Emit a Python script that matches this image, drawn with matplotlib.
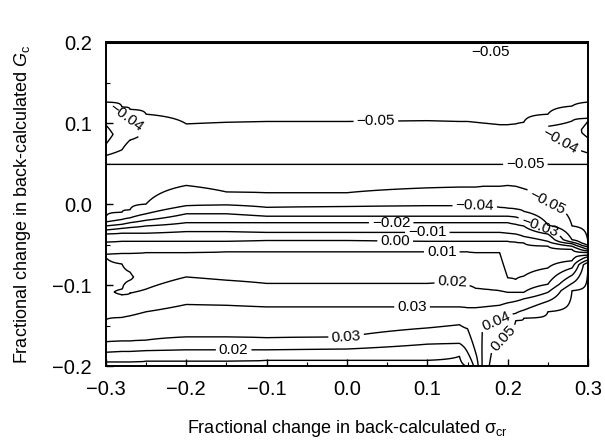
import numpy as np
import matplotlib.pyplot as plt
from matplotlib.ticker import FuncFormatter, MultipleLocator

plt.rcParams['font.family'] = 'Liberation Sans'
plt.rcParams['mathtext.fontset'] = 'custom'
plt.rcParams['mathtext.rm'] = 'Liberation Sans'
plt.rcParams['mathtext.it'] = 'Liberation Sans:italic'

na = np.nan

# columns (fractional change in sigma_cr) at which the contour positions were read
sig = [-0.3, -0.28, -0.27, -0.25, -0.2, -0.15, -0.1, 0.0, 0.1, 0.14, 0.15,
       0.16, 0.17, 0.18, 0.19, 0.2, 0.21, 0.22, 0.25, 0.28, 0.3]

levels = [-0.05, -0.04, -0.03, -0.02, -0.01, 0.0, 0.01, 0.02, 0.03, 0.04, 0.05]

# y position (fractional change in Gc) of each contour line at the columns above
top_edge = 0.22
line_a = 0.1985
trough_a = 0.155
line_b = [0.126, 0.120, 0.117, 0.111, 0.099, 0.101, 0.102, 0.102, 0.103, 0.102, 0.102,
          0.101, 0.100, 0.099, 0.098, 0.098, 0.099, 0.101, 0.111, 0.121, 0.126]
ridge_bc_y = [0.086, 0.086, 0.085, 0.083, 0.076, 0.075, 0.075, 0.075, 0.075, 0.075, 0.075,
              0.075, 0.075, 0.075, 0.075, 0.075, 0.076, 0.078, 0.092, 0.088, 0.092]
ridge_bc_v = [-0.026, -0.035, -0.037, -0.042, -0.047, -0.047, -0.047, -0.047, -0.047, -0.047, -0.047,
              -0.047, -0.047, -0.047, -0.047, -0.047, -0.047, -0.046, -0.039, -0.034, -0.026]
lobe_l04_up = [0.120, 0.114, 0.106] + [na] * 18
lobe_l04_dn = [0.060, 0.067, 0.079] + [na] * 18
lobe_l03_up = [0.0975] + [na] * 20
lobe_l03_dn = [0.074] + [na] * 20
lobe_r04_up = [na] * 18 + [0.096, 0.1025, 0.106]
lobe_r04_dn = [na] * 18 + [0.089, 0.070, 0.063]
lobe_r03_up = [na] * 20 + [0.1025]
lobe_r03_dn = [na] * 20 + [0.0815]
line_c = 0.049
trough_cd = 0.036
line_d1 = [-0.016, -0.010, -0.007, 0.000, 0.023, 0.015, 0.014, 0.014, 0.020, 0.021, 0.021,
           0.021, 0.022, 0.022, 0.022, 0.023, 0.022, 0.019, 0.000, -0.027, -0.048]
line_m04 = [-0.022, -0.019, -0.017, -0.012, -0.002, -0.001, -0.004, -0.003, -0.002, -0.002, -0.002,
            -0.002, -0.002, -0.003, -0.004, -0.005, -0.006, -0.009, -0.026, -0.044, -0.051]
line_m03 = [-0.027, -0.025, -0.023, -0.020, -0.012, -0.012, -0.015, -0.015, -0.015, -0.015, -0.015,
            -0.015, -0.015, -0.015, -0.015, -0.015, -0.016, -0.019, -0.031, -0.047, -0.053]
line_m02 = [-0.032, -0.030, -0.029, -0.027, -0.023, -0.023, -0.023, -0.023, -0.023, -0.023, -0.023,
            -0.023, -0.023, -0.023, -0.023, -0.023, -0.025, -0.027, -0.037, -0.049, -0.056]
line_m01 = [-0.037, -0.036, -0.036, -0.036, -0.034, -0.034, -0.035, -0.035, -0.035, -0.035, -0.035,
            -0.035, -0.035, -0.035, -0.035, -0.036, -0.037, -0.040, -0.046, -0.052, -0.058]
line_000 = [-0.047, -0.046, -0.046, -0.046, -0.046, -0.046, -0.045, -0.045, -0.046, -0.046, -0.046,
            -0.046, -0.046, -0.046, -0.046, -0.046, -0.047, -0.048, -0.052, -0.056, -0.060]
line_p01 = [-0.062, -0.061, -0.061, -0.060, -0.060, -0.059, -0.059, -0.059, -0.059, -0.059, -0.059,
            -0.060, -0.060, -0.060, -0.060, -0.091, -0.093, -0.089, -0.079, -0.070, -0.063]
lobe_p02_up = [-0.066, -0.074, -0.084] + [na] * 18
lobe_peak_y = [-0.090, -0.090, -0.090, -0.088] + [na] * 17
lobe_peak_v = [0.026, 0.023, 0.021, 0.016] + [na] * 17
lobe_p02_dn = [na, -0.105, -0.094] + [na] * 18
dip_y = [na, -0.1086, -0.101] + [na] * 18
dip_v = [na, 0.013, 0.016] + [na] * 18
line_p02 = [na, -0.112, -0.110, -0.105, -0.090, -0.094, -0.098, -0.098, -0.098, -0.096, -0.100,
            -0.104, -0.105, -0.106, -0.107, -0.109, -0.109, -0.109, -0.099, -0.079, -0.065]
line_p03a = [-0.143, -0.140, -0.138, -0.133, -0.124, -0.125, -0.127, -0.127, -0.127, -0.127, -0.128,
             -0.128, -0.127, -0.126, -0.125, -0.122, -0.120, -0.117, -0.109, -0.088, -0.069]
ridge_lo_y = [-0.157, -0.154, -0.153, -0.151, -0.144, -0.144, -0.146, -0.146, -0.140, -0.138, -0.141,
              -0.156] + [na] * 9
ridge_lo_v = [0.036, 0.036, 0.036, 0.036, 0.036, 0.036, 0.036, 0.036, 0.036, 0.037, 0.038,
              0.038] + [na] * 9
line_p03b = [-0.170, -0.169, -0.169, -0.168, -0.164, -0.164, -0.165, -0.164, -0.153, -0.149, -0.154,
             -0.183] + [na] * 9
line_p02b = [-0.183, -0.182, -0.182, -0.181, -0.180, -0.180, -0.180, -0.179, -0.173, -0.172, -0.183,
             -0.207] + [na] * 9
line_p01b = [-0.195, -0.195, -0.195, -0.194, -0.194, -0.194, -0.193, -0.193, -0.193, -0.188, -0.201,
             -0.217] + [na] * 9
line_p04 = [na] * 12 + [-0.152, -0.148, -0.143, -0.138, -0.135, -0.131, -0.120, -0.098, -0.072]
line_p05 = [na] * 13 + [-0.183, -0.168, -0.153, -0.144, -0.141, -0.133, -0.107, -0.075]
bottom_edge = -0.25
bottom_v = [0.0] * 12 + [0.048] + [0.06] * 8

knots = [
    (-0.046, top_edge), (-0.05, line_a), (-0.056, trough_a), (-0.05, line_b),
    (ridge_bc_v, ridge_bc_y),
    (-0.04, lobe_l04_up), (-0.04, lobe_l04_dn), (-0.03, lobe_l03_up), (-0.03, lobe_l03_dn),
    (-0.04, lobe_r04_up), (-0.04, lobe_r04_dn), (-0.03, lobe_r03_up), (-0.03, lobe_r03_dn),
    (-0.05, line_c), (-0.056, trough_cd), (-0.05, line_d1),
    (-0.04, line_m04), (-0.03, line_m03), (-0.02, line_m02), (-0.01, line_m01),
    (0.0, line_000), (0.01, line_p01),
    (0.02, lobe_p02_up), (lobe_peak_v, lobe_peak_y), (0.02, lobe_p02_dn), (dip_v, dip_y),
    (0.02, line_p02), (0.03, line_p03a), (ridge_lo_v, ridge_lo_y), (0.03, line_p03b),
    (0.02, line_p02b), (0.01, line_p01b), (0.04, line_p04), (0.05, line_p05),
    (bottom_v, bottom_edge),
]

ncol = len(sig)
gc = np.linspace(-0.25, 0.22, 941)
Z = np.empty((len(gc), ncol))
for j in range(ncol):
    pts = []
    for val, pos in knots:
        yv = np.broadcast_to(np.asarray(pos, float), (ncol,))[j]
        vv = np.broadcast_to(np.asarray(val, float), (ncol,))[j]
        if not (np.isnan(yv) or np.isnan(vv)):
            pts.append((yv, vv))
    pts.sort()
    Z[:, j] = np.interp(gc, [p[0] for p in pts], [p[1] for p in pts])

label_pos = [(0.036, 0.1025), (-0.276, 0.104), (0.268, 0.083), (0.222, 0.049),
             (0.246, -0.001), (0.159, -0.002), (0.240, -0.026), (0.055, -0.0235),
             (0.100, -0.036), (0.060, -0.047), (0.118, -0.059), (0.131, -0.093),
             (0.081, -0.127), (-0.001, -0.165), (-0.141, -0.180), (0.184, -0.141),
             (0.192, -0.162)]


def fmt_num(v, nd):
    if abs(v) < 1e-9:
        v = 0.0
    return f"{v:.{nd}f}".replace("-", "\u2212")


fig = plt.figure(figsize=(6.05, 4.48), dpi=100)
ax = fig.add_axes([0.175, 0.183, 0.797, 0.723])

cs = ax.contour(sig, gc, Z, levels=levels, colors='black', linewidths=1.0,
                linestyles='solid')
ax.clabel(cs, manual=label_pos, inline=True, fontsize=11,
          fmt=lambda v: fmt_num(v, 2), inline_spacing=3)
ax.text(0.178, 0.188, fmt_num(-0.05, 2), ha='center', va='center', fontsize=11)

ax.set_xlim(-0.3, 0.3)
ax.set_ylim(-0.2, 0.2)
ax.xaxis.set_major_locator(MultipleLocator(0.1))
ax.yaxis.set_major_locator(MultipleLocator(0.1))
ax.xaxis.set_minor_locator(MultipleLocator(0.05))
ax.yaxis.set_minor_locator(MultipleLocator(0.05))
ax.xaxis.set_major_formatter(FuncFormatter(lambda v, p: fmt_num(v, 1)))
ax.yaxis.set_major_formatter(FuncFormatter(lambda v, p: fmt_num(v, 1)))
ax.tick_params(which='major', direction='in', length=5, width=1, labelsize=14.5, pad=10)
ax.tick_params(which='minor', direction='in', length=3, width=0.8)
for s in ax.spines.values():
    s.set_linewidth(1.4)

ax.set_xlabel(r"Fractional change in back-calculated σ$_{\mathrm{cr}}$", fontsize=13, labelpad=14)
ax.set_ylabel(r"Fractional change in back-calculated $G_{\mathrm{c}}$", fontsize=13, labelpad=14)

fig.savefig('out.png', dpi=100)
